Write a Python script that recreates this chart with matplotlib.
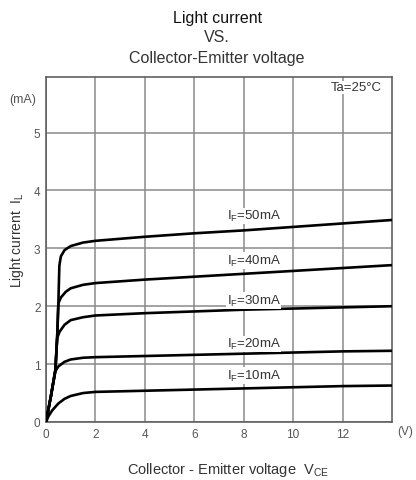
import matplotlib
matplotlib.use('Agg')
import matplotlib.pyplot as plt

plt.rcParams['font.family'] = ['Liberation Sans', 'DejaVu Sans']
plt.rcParams['mathtext.fontset'] = 'custom'
plt.rcParams['mathtext.rm'] = 'Liberation Sans'
plt.rcParams['mathtext.it'] = 'Liberation Sans'

# Light current IL (mA) vs collector-emitter voltage VCE (V), one curve per IF
vce_50 = [0, 0.2, 0.38, 0.45, 0.5, 0.54, 0.6, 0.75, 1.0, 1.5, 2, 4, 6, 8, 10, 12, 14]
il_50 = [0, 0.45, 0.9, 1.45, 2.05, 2.7, 2.86, 2.97, 3.04, 3.1, 3.13, 3.2, 3.26, 3.31, 3.37, 3.43, 3.49]

vce_40 = [0, 0.2, 0.38, 0.45, 0.5, 0.6, 0.8, 1.0, 1.5, 2, 4, 6, 8, 10, 12, 14]
il_40 = [0, 0.45, 0.9, 1.45, 2.05, 2.15, 2.25, 2.31, 2.37, 2.4, 2.46, 2.51, 2.56, 2.61, 2.66, 2.71]

vce_30 = [0, 0.2, 0.38, 0.45, 0.55, 0.75, 1.0, 1.5, 2, 4, 6, 8, 10, 12, 14]
il_30 = [0, 0.45, 0.9, 1.45, 1.56, 1.68, 1.76, 1.81, 1.84, 1.88, 1.91, 1.94, 1.96, 1.98, 2.0]

vce_20 = [0, 0.2, 0.38, 0.5, 0.75, 1.0, 1.5, 2, 4, 6, 8, 10, 12, 14]
il_20 = [0, 0.45, 0.88, 0.96, 1.04, 1.08, 1.11, 1.12, 1.14, 1.16, 1.18, 1.2, 1.22, 1.23]

vce_10 = [0, 0.1, 0.25, 0.5, 0.75, 1.0, 1.5, 2, 4, 6, 8, 10, 12, 14]
il_10 = [0, 0.1, 0.2, 0.32, 0.4, 0.45, 0.5, 0.52, 0.54, 0.56, 0.58, 0.6, 0.62, 0.63]

curves = [(vce_50, il_50), (vce_40, il_40), (vce_30, il_30), (vce_20, il_20), (vce_10, il_10)]
labels = ['50mA', '40mA', '30mA', '20mA', '10mA']
label_y = [3.56, 2.79, 2.1, 1.35, 0.8]

x_ticks = [0, 2, 4, 6, 8, 10, 12]
y_ticks = [0, 1, 2, 3, 4, 5]

txt = '#333333'
fig = plt.figure(figsize=(4.16, 4.81), dpi=100)
ax = fig.add_axes([0.1106, 0.1206, 0.8317, 0.7172])

for x, y in curves:
    ax.plot(x, y, color='black', lw=1.9, solid_capstyle='round', zorder=3)

for lab, ly in zip(labels, label_y):
    ax.text(8.4, ly, 'I$_\\mathrm{F}$=' + lab, ha='center', va='center', fontsize=9.5,
            color=txt, zorder=4,
            bbox=dict(facecolor='white', edgecolor='none', pad=0.6))

ax.set_xlim(0, 14)
ax.set_ylim(0, 5.96)
ax.set_xticks(x_ticks)
ax.set_yticks(y_ticks)
ax.grid(True, color='#8a8a8a', lw=1.1)
ax.set_axisbelow(True)
ax.tick_params(length=0, labelsize=8.5, labelcolor='#555555', pad=4)
for s in ax.spines.values():
    s.set_color('#555555')
    s.set_linewidth(1.1)

ax.text(13.6, 5.78, 'Ta=25°C', ha='right', va='center', fontsize=9.5, color=txt,
        bbox=dict(facecolor='white', edgecolor='none', pad=0.5), zorder=4)

fig.text(0.055, 0.792, '(mA)', ha='center', va='center', fontsize=9, color='#555555')
fig.text(0.955, 0.102, '(V)', ha='left', va='center', fontsize=8.5, color='#555555')

fig.text(0.522, 0.962, 'Light current', ha='center', va='center', fontsize=11.5, color='#111111')
fig.text(0.522, 0.921, 'VS.', ha='center', va='center', fontsize=11.5, color='#333333')
fig.text(0.522, 0.879, 'Collector-Emitter voltage', ha='center', va='center', fontsize=11.5, color='#333333')

fig.text(0.548, 0.023, 'Collector - Emitter voltage  V$_\\mathrm{CE}$', ha='center', va='center',
         fontsize=10.5, color=txt)
fig.text(0.041, 0.501, 'Light current  I$_\\mathrm{L}$', ha='center', va='center',
         rotation=90, fontsize=10, color=txt)

fig.savefig('out.png', dpi=100)
